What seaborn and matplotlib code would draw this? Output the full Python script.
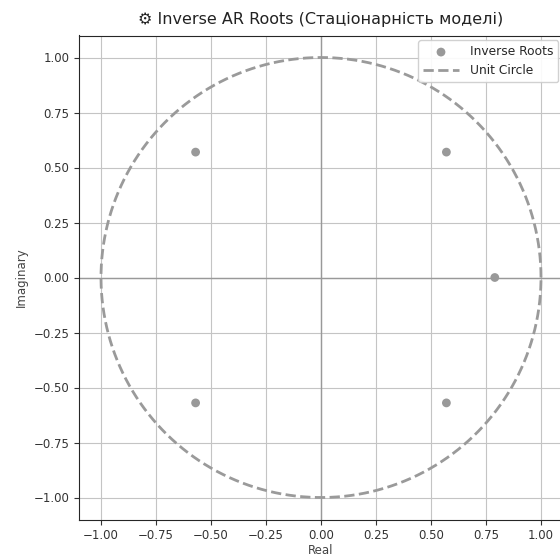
import numpy as np
import matplotlib
matplotlib.use("Agg")
import matplotlib.pyplot as plt
import seaborn as sns
import pandas as pd

roots_real = [0.57, 0.57, -0.57, -0.57, 0.79]
roots_imag = [0.57, -0.57, 0.57, -0.57, 0.0]
title = "⚙ Inverse AR Roots (Стаціонарність моделі)"

sns.set_style("ticks")
plt.rcParams['font.family'] = ['DejaVu Sans']

fig = plt.figure(figsize=(5.6, 5.6), dpi=100)
ax = fig.add_axes([79/560, 40/560, 484/560, 485/560])

theta = np.linspace(0, 2*np.pi, 400)
circle = pd.DataFrame({"x": np.cos(theta), "y": np.sin(theta)})
roots = pd.DataFrame({"Real": roots_real, "Imaginary": roots_imag})

ax.axhline(0, color="#999999", lw=1, zorder=1)
ax.axvline(0, color="#999999", lw=1, zorder=1)
sns.scatterplot(data=roots, x="Real", y="Imaginary", ax=ax, color="#999999",
                s=40, edgecolor="none", label="Inverse Roots", zorder=3)
sns.lineplot(data=circle, x="x", y="y", sort=False, estimator=None, ax=ax,
             color="#9a9a9a", lw=2, linestyle="--", label="Unit Circle", zorder=2)

ax.set_xlim(-1.1, 1.1)
ax.set_ylim(-1.1, 1.1)
ax.set_aspect("equal")
ax.set_xticks(np.arange(-1, 1.01, 0.25))
ax.set_yticks(np.arange(-1, 1.01, 0.25))
ax.grid(True, color="#c4c4c4", lw=0.8)
ax.set_axisbelow(True)
ax.tick_params(labelsize=8.5, colors="#333333", labelcolor="#333333")
ax.set_xlabel("Real", fontsize=8.5, color="#444444", labelpad=1)
ax.set_ylabel("Imaginary", fontsize=8.5, color="#444444", labelpad=4)
ax.set_title(title, fontsize=11.5, color="#222222", pad=8)
ax.legend(loc="upper right", fontsize=8.8, framealpha=0.9, borderaxespad=0.4,
          handlelength=2.9, handletextpad=0.9)

fig.savefig("out.png", dpi=100)
